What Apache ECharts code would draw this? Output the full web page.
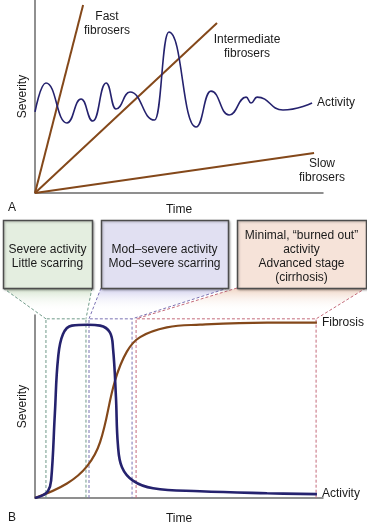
<!DOCTYPE html>
<html><head><meta charset="utf-8">
<script src="https://cdn.jsdelivr.net/npm/echarts@6/dist/echarts.min.js"></script>
<style>html,body{margin:0;padding:0;background:#fff}#c{width:367px;height:526px}</style>
</head><body><div id="c"></div>
<script>
// ---------- Panel A data (x: time 0-100, y: severity 0-100) ----------
const activityA = [[0,42.0],[3.8,57.0],[11.1,36.3],[16.0,48.7],[20.1,37.3],[24.7,57.0],[28.1,43.5],[33.0,52.3],[41.5,37.8],[46.5,83.4],[55.9,34.2],[61.1,52.8],[67.4,40.4],[73.3,49.7],[75.0,46.6],[77.1,49.7],[86.1,43.0],[96.2,46.6]];
const fastFibrosers = [[0,0],[16.7,97.4]];
const intermediateFibrosers = [[0,0],[63.2,88.1]];
const slowFibrosers = [[0,0],[96.9,20.7]];

// ---------- Panel B data ----------
const activityB = [[0,0],[2.8,1.6],[4.5,3.7],[5.6,9.5],[6.9,46.3],[8.0,76.3],[9.7,89.5],[12.8,94.2],[18.4,94.7],[22.6,94.2],[26.0,90.5],[27.1,81.6],[28.1,55.3],[28.8,28.9],[30.2,16.8],[34.0,9.5],[41.0,5.3],[57.3,3.7],[80.6,2.6],[97.9,2.1]];
const fibrosisB = [[0,0],[11.1,7.9],[18.1,17.4],[22.6,30.5],[27.8,64.2],[31.9,80],[36.5,87.9],[45.8,93.2],[57.3,94.7],[80.6,95.8],[97.9,95.8]];
// stage windows along time axis (x start, x end) and their top
const stageNames = ['Severe activity\nLittle scarring','Mod–severe activity\nMod–severe scarring','Minimal, “burned out”\nactivity\nAdvanced stage\n(cirrhosis)'];
const stageRanges = [[3.8,17.7],[18.75,33.7],[35.1,97.6]];
const stageTop = 97.9;

const FONT = '"Liberation Sans", Arial, sans-serif';
const TXT = '#1a1a1a';
const BROWN = '#84481a';
const NAVY = '#25226e';
const stageLine = ['#6f9a88','#7b72b3','#c46a7a'];
const stageFill = ['#e4eee0','#e1e0f2','#f6e3d9'];
const stageFade = ['#d3e3cc','#d2d0ee','#efd3c2'];
const boxX = [[3,92],[101,228],[237,366]];
const boxY = [220,288];

const chart = echarts.init(document.getElementById('c'));

function axisPair(gi, gap){
  return {
    x:{type:'value',gridIndex:gi,min:0,max:100,name:'Time',nameLocation:'middle',nameGap:gap,
       nameTextStyle:{fontFamily:FONT,fontSize:12,color:TXT},
       axisLine:{lineStyle:{color:'#6b6b6b',width:1.5}},axisTick:{show:false},axisLabel:{show:false},splitLine:{show:false}},
    y:{type:'value',gridIndex:gi,min:0,max:100,name:'Severity',nameLocation:'middle',nameGap:6,
       nameTextStyle:{fontFamily:FONT,fontSize:12,color:TXT},
       axisLine:{lineStyle:{color:'#6b6b6b',width:1.5}},axisTick:{show:false},axisLabel:{show:false},splitLine:{show:false}}
  };
}
const a0 = axisPair(0,11), a1 = axisPair(1,15);

function lineS(data, color, width, xi, extra){
  return Object.assign({type:'line',data:data,xAxisIndex:xi,yAxisIndex:xi,showSymbol:false,symbol:'none',
    lineStyle:{color:color,width:width},silent:true,animation:false}, extra||{});
}
const endLbl = (txt)=>({show:true,formatter:txt,distance:5,fontFamily:FONT,fontSize:12,color:TXT});

const series = [
  lineS(fastFibrosers,BROWN,2,0),
  lineS(intermediateFibrosers,BROWN,2,0),
  lineS(slowFibrosers,BROWN,2,0),
  lineS(activityA,NAVY,1.6,0,{smooth:0.5,smoothMonotone:'x',endLabel:endLbl('Activity')}),
];
stageRanges.forEach((r,i)=>{
  series.push(lineS([[r[0],0],[r[0],stageTop],[r[1],stageTop],[r[1],0]],stageLine[i],1,1,{lineStyle:{color:stageLine[i],width:1,type:[3,2]},z:1}));
});
series.push(lineS(fibrosisB,BROWN,2.2,1,{smooth:0.4,endLabel:endLbl('Fibrosis'),z:3}));
series.push(lineS(activityB,NAVY,2.6,1,{smooth:0.4,endLabel:endLbl('Activity'),z:4}));

chart.setOption({
  animation:false,
  grid:[{left:35,top:0,width:288,height:193},{left:35,top:315,width:288,height:190}],
  xAxis:[a0.x,a1.x], yAxis:[a0.y,a1.y],
  series:series
});

function px(d){return chart.convertToPixel({gridIndex:1},d);}
const g = [];
const t = (x,y,s,align)=>({type:'text',x:x,y:y,style:{text:s,fontFamily:FONT,fontSize:12,fill:TXT,align:align||'center',verticalAlign:'middle',lineHeight:14},z:10});
// panel labels
g.push(t(107,24,'Fast\nfibrosers'));
g.push(t(247,47,'Intermediate\nfibrosers'));
g.push(t(322,171,'Slow\nfibrosers'));
g.push(t(8,208,'A','left'));
g.push(t(8,518,'B','left'));
// stage boxes and connectors
stageRanges.forEach((r,i)=>{
  const pl = px([r[0],stageTop]), pr = px([r[1],stageTop]);
  const bx = boxX[i];
  g.push({type:'polygon',shape:{points:[[bx[0],boxY[1]],[bx[1],boxY[1]],[pr[0],pr[1]],[pl[0],pl[1]]]},
    style:{fill:new echarts.graphic.LinearGradient(0,0,0,1,[{offset:0,color:stageFade[i]},{offset:0.75,color:'rgba(255,255,255,0)'}]),stroke:null},z:2});
  g.push({type:'polyline',shape:{points:[[bx[0],boxY[1]],[pl[0],pl[1]]]},style:{stroke:stageLine[i],lineWidth:1,lineDash:[3,2]},z:3});
  g.push({type:'polyline',shape:{points:[[bx[1],boxY[1]],[pr[0],pr[1]]]},style:{stroke:stageLine[i],lineWidth:1,lineDash:[3,2]},z:3});
  g.push({type:'rect',shape:{x:bx[0]+0.5,y:boxY[0]+0.5,width:bx[1]-bx[0],height:boxY[1]-boxY[0]},
    style:{fill:stageFill[i],stroke:'#4d4d4d',lineWidth:1.5,shadowColor:'rgba(0,0,0,0.25)',shadowBlur:2,shadowOffsetX:1,shadowOffsetY:1},z:5});
  g.push(t((bx[0]+bx[1])/2,257,stageNames[i]));
});
chart.setOption({graphic:g});
</script></body></html>
